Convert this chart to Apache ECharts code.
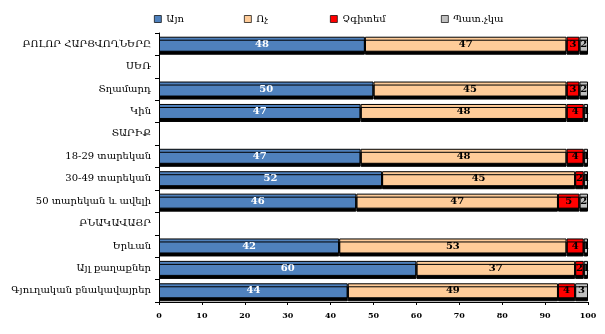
<!DOCTYPE html>
<html>
<head>
<meta charset="utf-8">
<script src="https://cdn.jsdelivr.net/npm/echarts@6/dist/echarts.min.js"></script>
<style>
  html, body { margin: 0; padding: 0; background: #fff; }
  #chart { width: 605px; height: 334px; }
</style>
</head>
<body>
<div id="chart"></div>
<script>
// Survey groups, top to bottom; section headers carry no values
const categories = [
  'ԲՈԼՈՐ ՀԱՐՑՎՈՂՆԵՐԸ',
  'ՍԵՌ',
  'Տղամարդ',
  'Կին',
  'ՏԱՐԻՔ',
  '18-29 տարեկան',
  '30-49 տարեկան',
  '50 տարեկան և ավելի',
  'ԲՆԱԿԱՎԱՅՐ',
  'Երևան',
  'Այլ քաղաքներ',
  'Գյուղական բնակավայրեր'
];
const seriesNames = ['Այո', 'Ոչ', 'Չգիտեմ', 'Պատ.չկա'];
const yesValues     = [48, null, 50, 47, null, 47, 52, 46, null, 42, 60, 44];
const noValues      = [47, null, 45, 48, null, 48, 45, 47, null, 53, 37, 49];
const dontKnow      = [3,  null, 3,  4,  null, 4,  2,  5,  null, 4,  2,  4];
const noAnswer      = [2,  null, 2,  1,  null, 1,  1,  2,  null, 1,  1,  3];
const xTicks = [0, 10, 20, 30, 40, 50, 60, 70, 80, 90, 100];

const FONT = '"DejaVu Serif", "Liberation Serif", serif';
const colors = ['#4F81BD', '#FFCC99', '#FF0000', '#C0C0C0'];
const labelColors = ['#ffffff', '#000000', '#000000', '#000000'];
const valueSets = [yesValues, noValues, dontKnow, noAnswer];

const chart = echarts.init(document.getElementById('chart'), null, { renderer: 'canvas' });

const series = seriesNames.map((name, i) => ({
  name: name,
  type: 'bar',
  stack: 'total',
  barWidth: 15,
  data: valueSets[i],
  itemStyle: {
    color: colors[i],
    borderColor: '#000',
    borderWidth: 1,
    shadowColor: 'rgba(0,0,0,1)',
    shadowBlur: 0,
    shadowOffsetY: 3
  },
  label: {
    show: true,
    position: 'inside',
    color: labelColors[i],
    fontFamily: FONT,
    fontWeight: 'bold',
    fontSize: 10
  },
  emphasis: { disabled: true }
}));

// Legend entries sit at fixed positions across the top
const legendLeft = [149, 239, 325, 436];
const legends = seriesNames.map((name, i) => ({
  data: [name],
  left: legendLeft[i],
  top: 9,
  itemWidth: 7,
  itemHeight: 7,
  itemGap: 4,
  icon: 'rect',
  textStyle: { fontFamily: FONT, fontSize: 10, color: '#000' },
  itemStyle: { borderColor: '#000', borderWidth: 0.7 }
}));

chart.setOption({
  animation: false,
  legend: legends,
  grid: { left: 159, right: 17, top: 33, bottom: 32, containLabel: false },
  xAxis: {
    type: 'value',
    min: 0,
    max: 100,
    interval: 10,
    axisLine: { show: true, lineStyle: { color: '#000', width: 1 } },
    axisTick: { show: true, length: 3, lineStyle: { color: '#000' } },
    splitLine: { show: false },
    axisLabel: {
      fontFamily: FONT,
      fontSize: 8,
      fontWeight: 'bold',
      color: '#000',
      margin: 10,
      formatter: v => xTicks.includes(v) ? String(v) : ''
    }
  },
  yAxis: {
    type: 'category',
    inverse: true,
    data: categories,
    axisLine: { show: true, lineStyle: { color: '#000', width: 1 } },
    axisTick: { show: true, length: 4, lineStyle: { color: '#000' } },
    axisLabel: {
      fontFamily: FONT,
      fontSize: 10,
      color: '#000',
      margin: 8
    }
  },
  series: series
});
</script>
</body>
</html>
